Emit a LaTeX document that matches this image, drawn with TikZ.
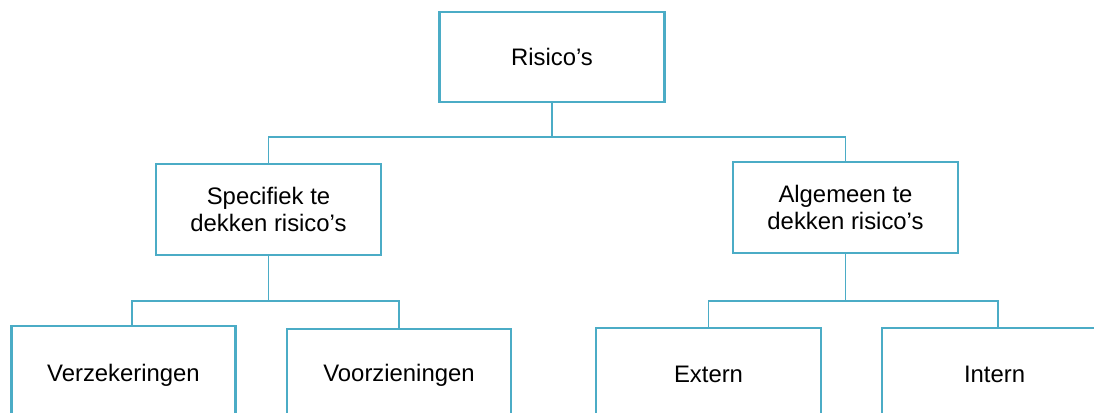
\documentclass[tikz,border=0pt]{standalone}
\usepackage{fontspec}
\setmainfont{Liberation Sans}
\definecolor{teal}{HTML}{4BACC6}
\begin{document}
\begin{tikzpicture}[x=0.75pt,y=-0.75pt,
  box/.style={draw=teal,line width=1.6pt,fill=white,minimum width=168.75pt,minimum height=68pt,
    inner sep=0pt,align=center,font=\fontsize{17.9}{20.2}\selectfont},
  conn/.style={draw=teal,line width=1.2pt}]
\useasboundingbox (0,0) rectangle (1094,412);
\clip (0,0) rectangle (1094,412);
\fill[white] (0,0) rectangle (1094,412);
\node[box] (root) at (552,57) {Risico’s};
\node[box] (spec) at (268.5,209.5) {Specifiek te\\dekken risico’s};
\node[box] (alg) at (845.5,207.5) {Algemeen te\\dekken risico’s};
\node[box,minimum width=168pt,minimum height=73.5pt] (verz) at (123.5,375) {Verzekeringen};
\node[box,minimum width=168pt,minimum height=69pt] (voor) at (399,375) {Voorzieningen};
\node[box,minimum height=69pt] (ext) at (708.5,374) {Extern};
\node[box,minimum height=69pt] (int) at (994.5,374) {Intern};
\coordinate (j1) at (552,137);
\coordinate (j2) at (266,301);
\coordinate (j3) at (846,301);
\draw[conn] (root.south) -- (j1);
\draw[conn] (j1) -| (spec.north);
\draw[conn] (j1) -| (alg.north);
\draw[conn] (spec.south) -- (spec.south |- j2);
\draw[conn] (j2) -| ([xshift=6.4pt]verz.north);
\draw[conn] (j2) -| (voor.north);
\draw[conn] (alg.south) -- (alg.south |- j3);
\draw[conn] (j3) -| (ext.north);
\draw[conn] (j3) -| ([xshift=2.6pt]int.north);
\end{tikzpicture}
\end{document}
